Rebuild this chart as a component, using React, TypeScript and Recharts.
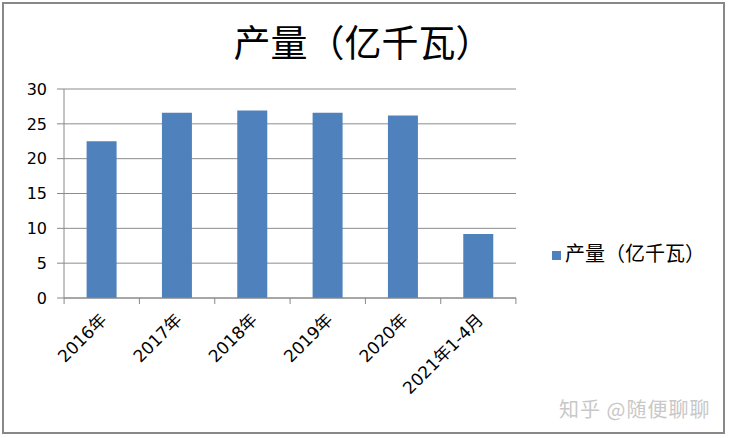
import React from 'react'
import { BarChart, Bar, XAxis, YAxis, CartesianGrid, Legend } from 'recharts'

const categories = ['2016年', '2017年', '2018年', '2019年', '2020年', '2021年1-4月']
const output = [22.5, 26.6, 26.9, 26.6, 26.2, 9.2]
const yTicks = [0, 5, 10, 15, 20, 25, 30]

const data = categories.map((name, i) => ({ name, value: output[i] }))

const SERIES = '产量（亿千瓦）'
const FONT = '"DejaVu Sans", "Noto Sans CJK SC", sans-serif'
const CJK = '"Noto Sans CJK SC", sans-serif'
const PLOT_W = 451
const HALF_BAND = PLOT_W / categories.length / 2

function XTick(props: any) {
  const { x, y, payload, index } = props
  const last = index === categories.length - 1
  return (
    <g>
      <line x1={x - HALF_BAND} y1={y - 8} x2={x - HALF_BAND} y2={y - 2} stroke="#888" />
      {last && <line x1={x + HALF_BAND} y1={y - 8} x2={x + HALF_BAND} y2={y - 2} stroke="#888" />}
      <text
        x={x + 6}
        y={y + 15}
        textAnchor="end"
        transform={`rotate(-45 ${x + 6} ${y + 15})`}
        fontSize={17}
        fontFamily={FONT}
        fill="#000"
      >
        {payload.value}
      </text>
    </g>
  )
}

export default function App() {
  return (
    <div style={{ position: 'absolute', left: 0, top: 0, width: 729, height: 438, background: '#fff' }}>
      <div
        style={{
          position: 'absolute', left: 2, top: 2, width: 719, height: 428,
          border: '2px solid #888', boxSizing: 'content-box',
        }}
      />
      <div
        style={{
          position: 'absolute', left: 10, top: 18, width: 706, textAlign: 'center',
          fontFamily: CJK, fontSize: 37, color: '#000', lineHeight: '46px',
        }}
      >
        {SERIES}
      </div>
      <BarChart
        width={729}
        height={438}
        data={data}
        margin={{ top: 89, right: 50, left: 0, bottom: 0 }}
        barCategoryGap="30%"
      >
        <CartesianGrid vertical={false} stroke="#8c8c8c" />
        <XAxis
          dataKey="name"
          height={140}
          axisLine={{ stroke: '#888' }}
          tickLine={false}
          interval={0}
          tick={<XTick />}
        />
        <YAxis
          width={64}
          domain={[0, 30]}
          ticks={yTicks}
          axisLine={{ stroke: '#888' }}
          tickLine={{ stroke: '#888' }}
          tickSize={7}
          tick={{ fontSize: 16, fontFamily: FONT, fill: '#000' }}
          tickMargin={10}
        />
        <Bar dataKey="value" name={SERIES} fill="#4f81bd" isAnimationActive={false} />
        <Legend
          layout="vertical"
          align="right"
          verticalAlign="middle"
          iconType="square"
          iconSize={9}
          wrapperStyle={{ right: 14, top: 238, fontFamily: CJK, fontSize: 20 }}
          formatter={(v: string) => <span style={{ color: '#000' }}>{v}</span>}
        />
      </BarChart>
      <div
        style={{
          position: 'absolute', left: 559, top: 394, fontFamily: CJK, fontSize: 20,
          color: '#c8c8c8', letterSpacing: 1,
        }}
      >
        知乎 @随便聊聊
      </div>
    </div>
  )
}
